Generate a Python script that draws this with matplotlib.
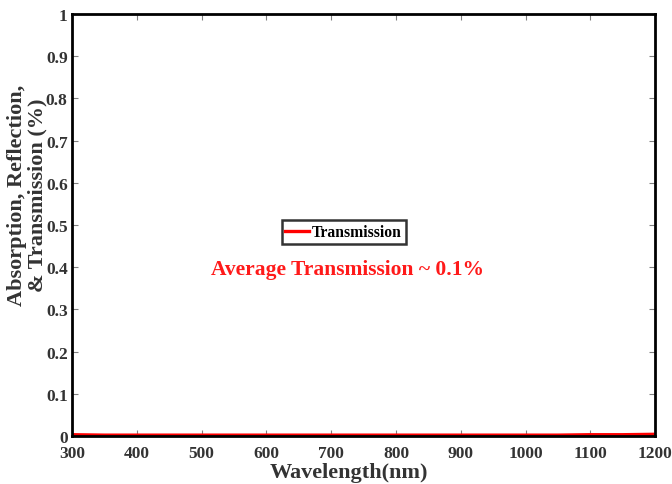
import numpy as np
import matplotlib
matplotlib.use("Agg")
import matplotlib.pyplot as plt

# wavelength (nm) and transmission (fraction)
wavelength = [300, 350, 400, 450, 500, 550, 600, 650, 700, 750, 800, 850,
              900, 950, 1000, 1050, 1100, 1150, 1200]
transmission = [0.003, 0.002, 0.002, 0.002, 0.002, 0.002, 0.002, 0.002, 0.002,
                0.002, 0.002, 0.002, 0.002, 0.002, 0.002, 0.002, 0.003, 0.003, 0.004]

x_ticks = [300, 400, 500, 600, 700, 800, 900, 1000, 1100, 1200]
y_ticks = [0, 0.1, 0.2, 0.3, 0.4, 0.5, 0.6, 0.7, 0.8, 0.9, 1]
y_tick_labels = ['0', '0.1', '0.2', '0.3', '0.4', '0.5', '0.6', '0.7', '0.8', '0.9', '1']

plt.rcParams['font.family'] = ['Liberation Serif', 'DejaVu Serif']
plt.rcParams['font.weight'] = 'bold'

fig = plt.figure(figsize=(6.72, 4.85), dpi=100)
ax = fig.add_axes([0.107, 0.099, 0.868, 0.870])

ax.plot(wavelength, transmission, color='red', linewidth=2.4, label='Transmission')

ax.set_xlim(300, 1200)
ax.set_ylim(0, 1)
ax.set_xticks(x_ticks)
ax.set_yticks(y_ticks)
ax.set_yticklabels(y_tick_labels)
ax.tick_params(direction='in', length=4, width=0.8, color='gray', labelsize=12.5,
               top=True, right=True)
ax.tick_params(axis='x', pad=6.5)
ax.tick_params(axis='y', pad=3)
for lbl in ax.get_xticklabels() + ax.get_yticklabels():
    lbl.set_fontweight('bold')
    lbl.set_color('#333333')

for sp in ax.spines.values():
    sp.set_linewidth(2)
    sp.set_color('black')

ax.set_xlabel('Wavelength(nm)', fontsize=16, fontweight='bold', color='#333333')
ax.xaxis.set_label_coords(0.475, -0.062)
ax.set_ylabel('Absorption, Reflection,\n& Transmission (%)', fontsize=16, fontweight='bold',
              color='#333333', linespacing=1.0, va='center', ha='center')
ax.yaxis.set_label_coords(-0.077, 0.573)

leg = ax.legend(loc='center', bbox_to_anchor=(0.466, 0.483), fontsize=11.3, frameon=True,
                fancybox=False, handlelength=1.5, handletextpad=0.2, borderpad=0.25,
                borderaxespad=0)
leg.get_frame().set_edgecolor('black')
leg.get_frame().set_linewidth(1.8)
for t in leg.get_texts():
    t.set_fontweight('bold')

ax.text(0.473, 0.395, 'Average Transmission ~ 0.1%', transform=ax.transAxes,
        color='#ff1a1a', fontsize=15.5, fontweight='bold', ha='center', va='center')

fig.savefig('out.png', dpi=100)
